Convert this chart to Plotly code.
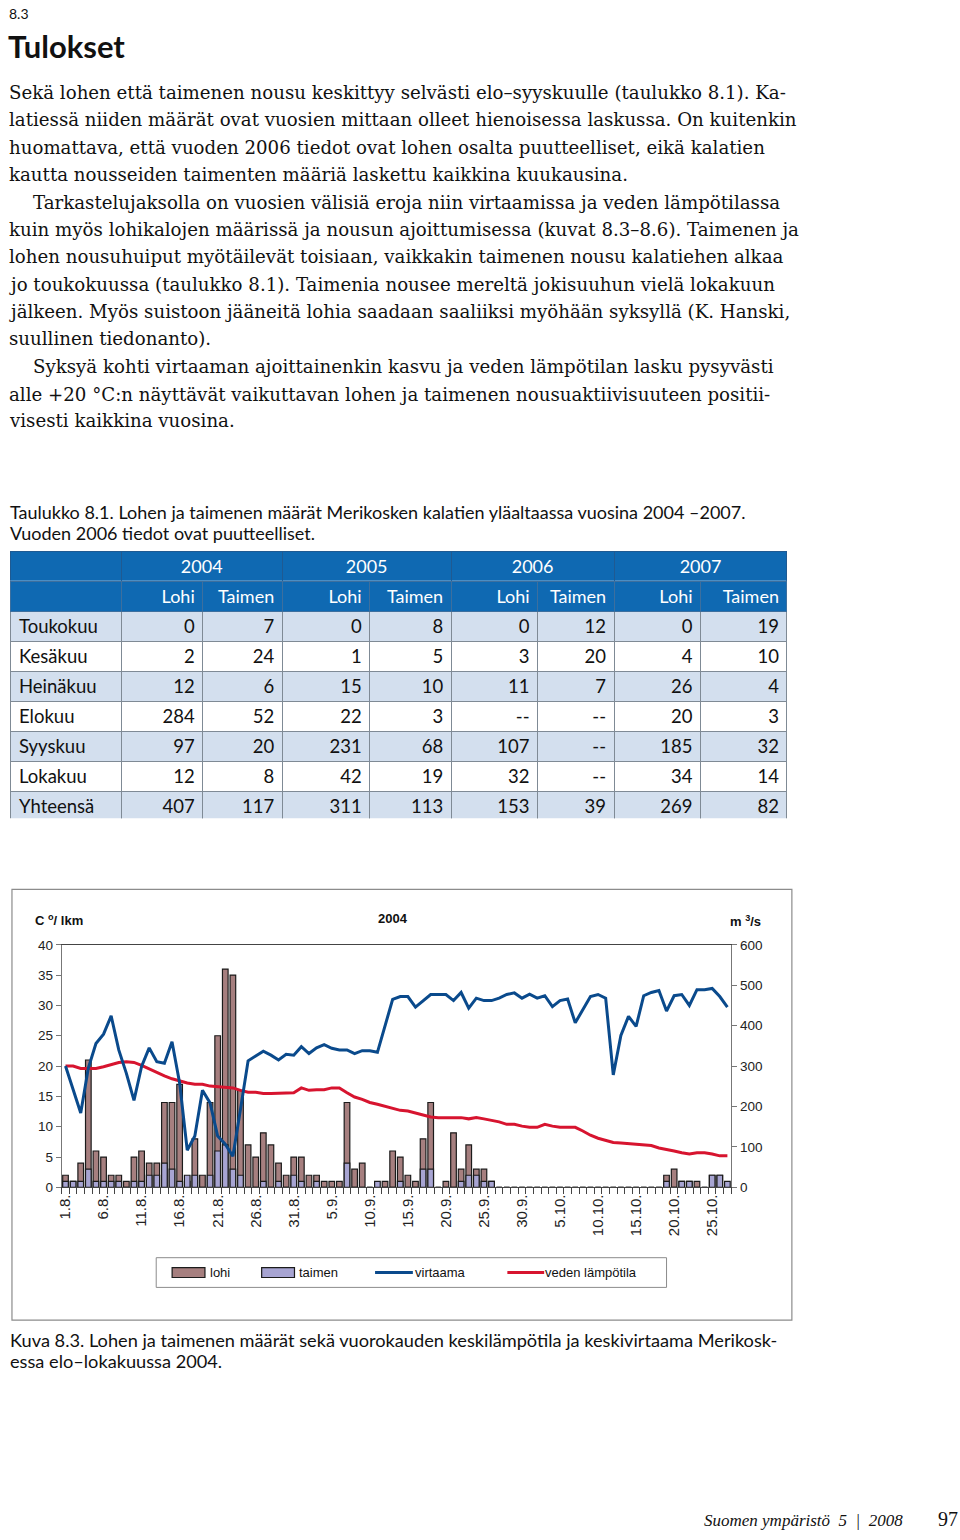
import plotly.graph_objects as go

W, H = 960, 1540


def px(x):
    return x / W


def py(y):
    return 1 - y / H


# ---------------- data ----------------
month_lengths = [("8", 31), ("9", 30), ("10", 27)]
days = [f"{d}.{m}." for m, n in month_lengths for d in range(1, n + 1)]

tick_labels = ["1.8.", "6.8.", "11.8.", "16.8.", "21.8.", "26.8.", "31.8.", "5.9.",
               "10.9.", "15.9.", "20.9.", "25.9.", "30.9.", "5.10.", "10.10.",
               "15.10.", "20.10.", "25.10."]

lohi = [2, 1, 4, 21, 6, 5, 2, 2, 1, 5,
        6, 4, 4, 14, 14, 17, 1, 8, 2, 14,
        25, 36, 35, 16, 7, 5, 9, 7, 4, 2,
        5, 5, 2, 2, 1, 1, 1, 14, 3, 4,
        0, 0, 1, 6, 5, 2, 1, 8, 14, 0,
        1, 9, 3, 7, 3, 3, 1, 0, 0, 0,
        0, 0, 0, 0, 0, 0, 0, 0, 0, 0,
        0, 0, 0, 0, 0, 0, 0, 0, 0, 2,
        3, 1, 1, 1, 0, 2, 2, 0]

taimen = [1, 1, 1, 3, 1, 1, 1, 1, 0, 1,
          1, 2, 2, 4, 3, 1, 2, 2, 0, 2,
          6, 7, 3, 2, 0, 0, 1, 0, 1, 0,
          2, 1, 0, 1, 0, 0, 0, 4, 0, 0,
          0, 1, 0, 0, 1, 0, 0, 3, 3, 0,
          0, 0, 1, 2, 2, 1, 1, 0, 0, 0,
          0, 0, 0, 0, 0, 0, 0, 0, 0, 0,
          0, 0, 0, 0, 0, 0, 0, 0, 0, 1,
          0, 1, 1, 0, 0, 2, 2, 1]

virtaama = [300, 242, 184, 295, 356, 379, 424, 340, 282, 215,
            299, 345, 311, 307, 360, 258, 92, 127, 240, 209,
            127, 107, 77, 193, 313, 325, 337, 327, 315, 329,
            327, 348, 331, 345, 353, 344, 340, 340, 331, 338,
            338, 334, 401, 465, 472, 472, 446, 462, 477, 477,
            477, 462, 482, 443, 468, 462, 462, 468, 477, 481,
            468, 478, 468, 474, 447, 462, 466, 407, 439, 472,
            477, 468, 278, 376, 423, 398, 474, 482, 487, 436,
            474, 477, 450, 489, 489, 492, 472, 446]

lampotila = [20.0, 20.0, 19.6, 19.6, 19.6, 19.9, 20.3, 20.6, 20.7, 20.6,
             20.1, 19.5, 18.9, 18.4, 17.9, 17.5, 17.2, 17.0, 17.0, 16.7,
             16.6, 16.5, 16.4, 16.0, 15.7, 15.7, 15.5, 15.5, 15.5, 15.5,
             15.6, 16.4, 16.0, 16.1, 16.1, 16.4, 16.4, 15.6, 14.9, 14.5,
             14.0, 13.7, 13.4, 13.1, 12.7, 12.6, 12.3, 11.9, 11.6, 11.5,
             11.5, 11.5, 11.5, 11.3, 11.5, 11.3, 11.1, 10.8, 10.4, 10.4,
             10.1, 9.9, 9.9, 10.4, 10.1, 9.9, 9.9, 9.9, 9.3, 8.6,
             8.1, 7.7, 7.4, 7.3, 7.2, 7.0, 6.9, 6.9, 6.5, 6.3,
             6.0, 5.7, 5.5, 5.7, 5.7, 5.5, 5.2, 5.2]

left_ticks = [0, 5, 10, 15, 20, 25, 30, 35, 40]
right_ticks = [0, 100, 200, 300, 400, 500, 600]

# table
table_years = ["2004", "2005", "2006", "2007"]
table_sub = ["Lohi", "Taimen"]
months = ["Toukokuu", "Kesäkuu", "Heinäkuu", "Elokuu", "Syyskuu", "Lokakuu", "Yhteensä"]
lohi_2004 = ["0", "2", "12", "284", "97", "12", "407"]
taimen_2004 = ["7", "24", "6", "52", "20", "8", "117"]
lohi_2005 = ["0", "1", "15", "22", "231", "42", "311"]
taimen_2005 = ["8", "5", "10", "3", "68", "19", "113"]
lohi_2006 = ["0", "3", "11", "--", "107", "32", "153"]
taimen_2006 = ["12", "20", "7", "--", "--", "--", "39"]
lohi_2007 = ["0", "4", "26", "20", "185", "34", "269"]
taimen_2007 = ["19", "10", "4", "3", "32", "14", "82"]

# ---------------- styles ----------------
LOHI_C = "#A67F7F"
TAIMEN_C = "#A7A4D2"
BLUE = "#0A4A8C"
RED = "#D7142F"
HEAD = "#0F69B2"
ROW_L = "#D3DFEE"
SERIF = "DejaVu Serif, Liberation Serif, serif"
SERIF2 = "Liberation Serif, serif"
SANS = "Lato, Open Sans, sans-serif"
ARIAL = "Liberation Sans, Arial, sans-serif"

fig = go.Figure()

fig.add_trace(go.Bar(x=days, y=lohi, name="lohi", width=0.74,
                     marker=dict(color=LOHI_C, line=dict(color="#1b1b1b", width=1.2)),
                     showlegend=False, xaxis="x", yaxis="y"))
fig.add_trace(go.Bar(x=days, y=taimen, name="taimen", width=0.74,
                     marker=dict(color=TAIMEN_C, line=dict(color="#1b1b1b", width=1.2)),
                     showlegend=False, xaxis="x", yaxis="y"))
fig.add_trace(go.Scatter(x=days, y=lampotila, name="veden lämpötila", mode="lines",
                         line=dict(color=RED, width=3), showlegend=False,
                         xaxis="x", yaxis="y"))
fig.add_trace(go.Scatter(x=days, y=virtaama, name="virtaama", mode="lines",
                         line=dict(color=BLUE, width=3), showlegend=False,
                         xaxis="x", yaxis="y2"))

# tables
row_fill = [ROW_L if i % 2 == 0 else "white" for i in range(len(months))]
fig.add_trace(go.Table(
    domain=dict(x=[px(6), px(787)], y=[py(580), py(550)]),
    columnwidth=[111, 162, 170, 164, 174],
    header=dict(values=[""] + table_years, fill_color=HEAD, line=dict(color="#1f5a92", width=1),
                font=dict(color="white", size=18, family=SANS), align="center", height=30),
    cells=dict(values=[[] for _ in range(5)], height=30),
))
fig.add_trace(go.Table(
    domain=dict(x=[px(6), px(787)], y=[py(820), py(580)]),
    columnwidth=[111, 82, 80, 88, 82, 87, 77, 87, 87],
    header=dict(values=[""] + table_sub * 4, fill_color=HEAD, line=dict(color="#3d6f9e", width=1),
                font=dict(color="white", size=18, family=SANS),
                align=["left"] + ["right"] * 8, height=30),
    cells=dict(values=[months, lohi_2004, taimen_2004, lohi_2005, taimen_2005,
                       lohi_2006, taimen_2006, lohi_2007, taimen_2007],
               fill_color=[row_fill] * 9, line=dict(color="#7f8a95", width=1),
               font=dict(color="#111111", size=18.5, family=SANS),
               align=["left"] + ["right"] * 8, height=30),
))

# ---------------- text ----------------
ann = []


def text(x, y, s, size, family, color="#111", bold=False, italic=False, anchor="left"):
    if bold:
        s = f"<b>{s}</b>"
    if italic:
        s = f"<i>{s}</i>"
    ann.append(dict(x=px(x), y=py(y), xref="paper", yref="paper", text=s, showarrow=False,
                    xanchor=anchor, yanchor="middle",
                    font=dict(size=size, family=family, color=color)))


text(2, 7, "8.3", 14, SANS)
text(1, 39, "Tulokset", 31, SANS, bold=True)

body = [
    (2, 86, "Sekä lohen että taimenen nousu keskittyy selvästi elo–syyskuulle (taulukko 8.1). Ka-"),
    (2, 114, "latiessä niiden määrät ovat vuosien mittaan olleet hienoisessa laskussa. On kuitenkin"),
    (2, 142, "huomattava, että vuoden 2006 tiedot ovat lohen osalta puutteelliset, eikä kalatien"),
    (2, 169, "kautta nousseiden taimenten määriä laskettu kaikkina kuukausina."),
    (26, 197, "Tarkastelujaksolla on vuosien välisiä eroja niin virtaamissa ja veden lämpötilassa"),
    (2, 225, "kuin myös lohikalojen määrissä ja nousun ajoittumisessa (kuvat 8.3–8.6). Taimenen ja"),
    (2, 252, "lohen nousuhuiput myötäilevät toisiaan, vaikkakin taimenen nousu kalatiehen alkaa"),
    (2, 280, "jo toukokuussa (taulukko 8.1). Taimenia nousee mereltä jokisuuhun vielä lokakuun"),
    (2, 307, "jälkeen. Myös suistoon jääneitä lohia saadaan saaliiksi myöhään syksyllä (K. Hanski,"),
    (2, 335, "suullinen tiedonanto)."),
    (26, 363, "Syksyä kohti virtaaman ajoittainenkin kasvu ja veden lämpötilan lasku pysyvästi"),
    (2, 391, "alle +20 °C:n näyttävät vaikuttavan lohen ja taimenen nousuaktiivisuuteen positii-"),
    (2, 418, "visesti kaikkina vuosina."),
]
for x, y, s in body:
    text(x, y, s, 18.2, SERIF)

text(3, 510, "Taulukko 8.1. Lohen ja taimenen määrät Merikosken kalatien yläaltaassa vuosina 2004 –2007.", 18, SANS)
text(3, 531, "Vuoden 2006 tiedot ovat puutteelliset.", 18, SANS)

text(3, 1346, "Kuva 8.3. Lohen ja taimenen määrät sekä vuorokauden keskilämpötila ja keskivirtaama Merikosk-", 18.2, SANS)
text(3, 1367, "essa elo–lokakuussa 2004.", 18.2, SANS)

text(905, 1528, "Suomen ympäristö  5  |  2008", 17, SERIF2, italic=True, anchor="right")
text(960, 1527, "97", 20, SERIF2, anchor="right")

# chart labels
text(28, 922, "C <sup>o</sup>/ lkm", 13, ARIAL, bold=True)
text(390, 920, "2004", 13, ARIAL, bold=True, anchor="center")
text(727, 923, "m <sup>3</sup>/s", 13, ARIAL, bold=True)

# legend text
text(204, 1278, "lohi", 13, ARIAL)
text(294, 1278, "taimen", 13, ARIAL)
text(410, 1278, "virtaama", 13, ARIAL)
text(541, 1278, "veden lämpötila", 13, ARIAL)

shapes = [
    dict(type="rect", xref="paper", yref="paper", x0=px(7), x1=px(791), y0=py(891), y1=py(1326),
         line=dict(color="#8c8c8c", width=1.2)),
    dict(type="rect", xref="paper", yref="paper", x0=px(152), x1=px(665), y0=py(1263), y1=py(1293),
         line=dict(color="#8c8c8c", width=1)),
    dict(type="rect", xref="paper", yref="paper", x0=px(168), x1=px(201), y0=py(1273), y1=py(1283),
         fillcolor=LOHI_C, line=dict(color="#1b1b1b", width=1.2)),
    dict(type="rect", xref="paper", yref="paper", x0=px(258), x1=px(291), y0=py(1273), y1=py(1283),
         fillcolor=TAIMEN_C, line=dict(color="#1b1b1b", width=1.2)),
    dict(type="line", xref="paper", yref="paper", x0=px(372), x1=px(410), y0=py(1278), y1=py(1278),
         line=dict(color=BLUE, width=3)),
    dict(type="line", xref="paper", yref="paper", x0=px(505), x1=px(542), y0=py(1278), y1=py(1278),
         line=dict(color=RED, width=3)),
]

fig.update_layout(
    width=W, height=H,
    margin=dict(l=0, r=0, t=0, b=0),
    paper_bgcolor="white", plot_bgcolor="white",
    barmode="overlay", bargap=0.25,
    annotations=ann, shapes=shapes,
    xaxis=dict(domain=[px(57), px(730)], anchor="y", type="category",
               categoryorder="array", categoryarray=days,
               tickmode="array", tickvals=days,
               ticktext=[d if d in tick_labels else "" for d in days],
               tickson="boundaries", ticks="outside", ticklen=6, tickcolor="#444",
               tickangle=-90, tickfont=dict(size=15, family=ARIAL, color="#222"),
               showline=True, linecolor="#444", linewidth=1.2, mirror=True,
               showgrid=False, zeroline=False),
    yaxis=dict(domain=[py(1192), py(947)], anchor="x", range=[0, 40],
               tickvals=left_ticks, ticks="outside", ticklen=5, tickcolor="#777",
               tickfont=dict(size=13.5, family=ARIAL, color="#222"),
               showline=True, linecolor="#777", linewidth=1, showgrid=False, zeroline=False),
    yaxis2=dict(domain=[py(1192), py(947)], anchor="x", overlaying="y", side="right",
                range=[0, 600], tickvals=right_ticks, ticks="outside", ticklen=5, tickcolor="#777",
                tickfont=dict(size=13.5, family=ARIAL, color="#222"),
                showline=True, linecolor="#777", linewidth=1, showgrid=False, zeroline=False),
    font=dict(family=SANS),
)

post = ("var s=document.documentElement.style;s.margin='0';s.padding='0';s.overflow='hidden';"
        "var b=document.body.style;b.margin='0';b.padding='0';b.overflow='hidden';"
        "var g=document.getElementsByClassName('plotly-graph-div')[0];"
        "g.style.position='absolute';g.style.left='0px';g.style.top='0px';")

fig.write_html("out.html", config={"displayModeBar": False}, post_script=post)
